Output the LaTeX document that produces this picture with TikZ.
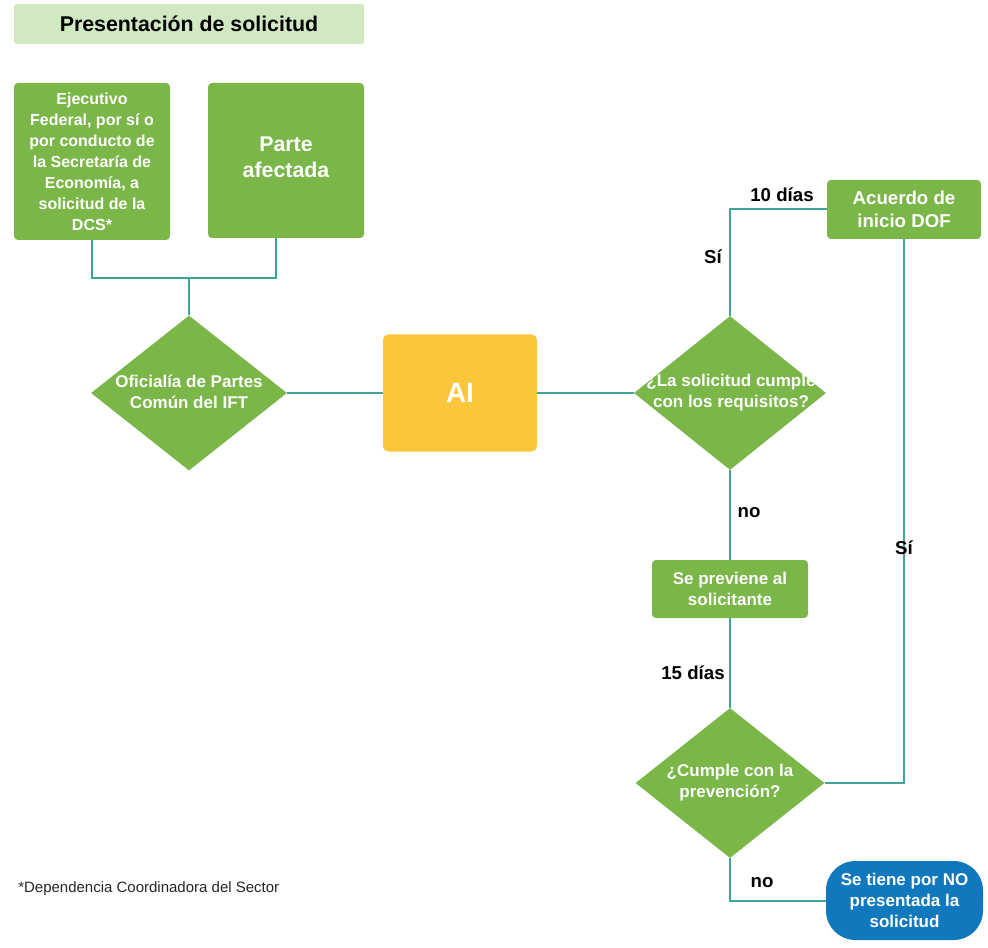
\documentclass[tikz,border=0pt]{standalone}
\usepackage{fontspec}
\setmainfont{Liberation Sans}
\usetikzlibrary{shapes.geometric}
\definecolor{boxgreen}{HTML}{7AB648}
\definecolor{titlegreen}{HTML}{D0E9C2}
\definecolor{aiyellow}{HTML}{FBC53C}
\definecolor{endblue}{HTML}{1079BE}
\definecolor{conncol}{HTML}{3DA59A}
\begin{document}
\begin{tikzpicture}[x=0.75pt,y=-0.75pt,
  gbox/.style={fill=boxgreen, rounded corners=3pt, text=white, align=center, inner sep=0pt,
    font=\bfseries\fontsize{12.75}{15.75}\selectfont},
  dia/.style={diamond, fill=boxgreen, inner sep=0pt},
  dtext/.style={text=white, align=center, inner sep=0pt, font=\bfseries\fontsize{12.75}{15.75}\selectfont},
  conn/.style={draw=conncol, line width=1.5pt},
  lbl/.style={text=black, inner sep=0pt, font=\bfseries\fontsize{14}{16}\selectfont}]
\useasboundingbox (0,0) rectangle (988,948);

% title
\node[fill=titlegreen, rounded corners=2pt, minimum width=350*0.75pt, minimum height=40*0.75pt,
  inner sep=0pt, font=\bfseries\fontsize{16}{18}\selectfont] (title) at (189,24) {Presentación de solicitud};

% top boxes
\node[gbox, minimum width=156*0.75pt, minimum height=157*0.75pt, font=\bfseries\fontsize{12}{15.75}\selectfont]
  (ejec) at (92,161.5) {Ejecutivo\\Federal, por sí o\\por conducto de\\la Secretaría de\\Economía, a\\solicitud de la\\DCS*};
\node[gbox, minimum width=156*0.75pt, minimum height=155*0.75pt, font=\bfseries\fontsize{16}{19.5}\selectfont]
  (parte) at (286,160.5) {};
\node[dtext, font=\bfseries\fontsize{16}{19.5}\selectfont] (partet) at (286,157) {Parte\\afectada};

\coordinate (j) at (189,278);

% diamond 1
\node[dia, minimum width=196*0.75pt, minimum height=155*0.75pt] (d1) at (189,393) {};
\node[dtext] (d1t) at (189,391.5) {Oficialía de Partes\\Común del IFT};

% AI
\node[fill=aiyellow, rounded corners=4pt, minimum width=154*0.75pt, minimum height=117*0.75pt,
  inner sep=0pt, text=white, font=\bfseries\fontsize{21}{24}\selectfont] (ai) at (460,393) {AI};

% diamond 2
\node[dia, minimum width=192*0.75pt, minimum height=154*0.75pt] (d2) at (730,393) {};
\node[dtext] (d2t) at (731,392.5) {¿La solicitud cumple\\con los requisitos?};

% Acuerdo
\node[gbox, minimum width=154*0.75pt, minimum height=59*0.75pt, font=\bfseries\fontsize{14}{17.25}\selectfont]
  (acu) at (904,209.5) {Acuerdo de\\inicio DOF};

% Se previene
\node[gbox, minimum width=156*0.75pt, minimum height=58*0.75pt] (prev) at (730,589) {Se previene al\\solicitante};

% diamond 3
\node[dia, minimum width=189*0.75pt, minimum height=150*0.75pt] (d3) at (730,783) {};
\node[dtext] (d3t) at (730,782.5) {¿Cumple con la\\prevención?};

% end oval
\node[fill=endblue, rounded corners=22pt, minimum width=157*0.75pt, minimum height=79*0.75pt,
  inner sep=0pt, text=white, align=center, font=\bfseries\fontsize{12.75}{15.75}\selectfont]
  (fin) at (904.5,900.5) {Se tiene por NO\\presentada la\\solicitud};

% connectors
\draw[conn] (ejec.south) |- (j) -| ([xshift=-7.5pt]parte.south);
\draw[conn] (j) -- (d1.north);
\draw[conn] (d1.east) -- (ai.west);
\draw[conn] (ai.east) -- (d2.west);
\draw[conn] (d2.north) |- (acu.west);
\draw[conn] (acu.south) |- (d3.east);
\draw[conn] (d2.south) -- (prev.north);
\draw[conn] (prev.south) -- (d3.north);
\draw[conn] (d3.south) |- (fin.west);

% labels
\node[lbl] (l10) at (782,195) {10 días};
\node[lbl] (lsi1) at (713,257) {Sí};
\node[lbl] (lno1) at (749,513) {no};
\node[lbl] (lsi2) at (904,548) {Sí};
\node[lbl] (l15) at (693,673) {15 días};
\node[lbl] (lno2) at (762,883) {no};

% footnote
\node[anchor=west, inner sep=0pt, text=black!85, font=\fontsize{11.25}{13}\selectfont] (fn) at (18,889)
  {*Dependencia Coordinadora del Sector};
\end{tikzpicture}
\end{document}
